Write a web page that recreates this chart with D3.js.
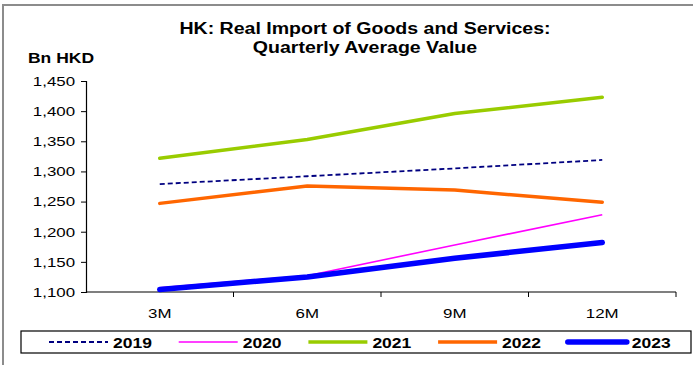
<!DOCTYPE html>
<html><head><meta charset="utf-8">
<script src="https://cdn.jsdelivr.net/npm/d3@7"></script>
<style>
body{margin:0;background:#fff;}
svg{display:block;font-family:"Liberation Sans",Arial,sans-serif;}
</style></head>
<body>
<svg id="c" width="693" height="365"></svg>
<script>
const categories = ["3M","6M","9M","12M"];
const years = ["2019","2020","2021","2022","2023"];
const v2019 = [1279,1292,1305,1319];
const v2020 = [1107,1127,1178,1228];
const v2021 = [1322,1353,1396,1423];
const v2022 = [1247,1276,1269,1249];
const v2023 = [1104,1125,1156,1182];
const yTicks = [1100,1150,1200,1250,1300,1350,1400,1450];
const titleLines = ["HK: Real Import of Goods and Services:","Quarterly Average Value"];
const yLabel = "Bn HKD";

const seriesVals = [v2019,v2020,v2021,v2022,v2023];
const styles = [
  {color:"#000080",width:1.8,dash:"5,3",cap:"butt"},
  {color:"#ff00ff",width:1.6,dash:null,cap:"butt"},
  {color:"#99cc00",width:3.5,dash:null,cap:"round"},
  {color:"#ff6600",width:3.5,dash:null,cap:"round"},
  {color:"#0000ff",width:5.5,dash:null,cap:"round"}
];

const SX = 1.25;
// place text at (x,y) with horizontal stretch
function stretch(sel, k){
  sel.each(function(){
    const t = d3.select(this);
    const xv = +(t.attr("x")||0);
    t.attr("x", xv/k).attr("transform", `scale(${k},1)`);
  });
}

const svg = d3.select("#c");
svg.append("rect").attr("x",3).attr("y",5).attr("width",700).attr("height",380)
  .attr("fill","none").attr("stroke","#8c8c8c").attr("stroke-width",2);

const x = d3.scaleBand().domain(categories).range([86,676]);
const y = d3.scaleLinear().domain([1100,1450]).range([292,81]);

// title
svg.append("g").selectAll("text").data(titleLines).join("text")
  .attr("x",365).attr("y",(d,i)=>34+i*19).attr("text-anchor","middle")
  .attr("font-weight","bold").attr("font-size",17).text(d=>d)
  .call(stretch,1.15);

svg.append("text").attr("x",28).attr("y",63).attr("font-weight","bold")
  .attr("font-size",14).text(yLabel).call(stretch,SX);

// y axis
const ya = svg.append("g").attr("transform","translate(86,0)")
  .call(d3.axisLeft(y).tickValues(yTicks).tickSize(5).tickPadding(6).tickFormat(d3.format(",")));
ya.select(".domain").attr("stroke","#000").attr("stroke-width",1.2);
ya.selectAll(".tick line").attr("stroke","#000");
ya.selectAll(".tick text").attr("font-size",13.5).attr("fill","#000")
  .attr("font-family","Liberation Sans, Arial, sans-serif").call(stretch,SX);

// x axis
const xa = svg.append("g").attr("transform","translate(0,292)");
xa.append("line").attr("x1",86).attr("x2",676).attr("y1",0).attr("y2",0).attr("stroke","#000").attr("stroke-width",1.2);
const bounds = categories.map(c=>x(c)).concat([x.range()[1]]);
xa.selectAll("line.tk").data(bounds.slice(1)).join("line").attr("class","tk")
  .attr("x1",d=>d).attr("x2",d=>d).attr("y1",0).attr("y2",5).attr("stroke","#000");
xa.selectAll("text").data(categories).join("text")
  .attr("x",d=>x(d)+x.bandwidth()/2).attr("y",26).attr("text-anchor","middle")
  .attr("font-size",13.5).text(d=>d).call(stretch,SX);

// lines
const line = d3.line().x((d,i)=>x(categories[i])+x.bandwidth()/2).y(d=>y(d));
seriesVals.forEach((vals,k)=>{
  const s = styles[k];
  svg.append("path").datum(vals).attr("d",line).attr("fill","none")
    .attr("stroke",s.color).attr("stroke-width",s.width)
    .attr("stroke-dasharray",s.dash).attr("stroke-linecap",s.cap).attr("stroke-linejoin","round");
});

// legend
svg.append("rect").attr("x",21).attr("y",331).attr("width",670).attr("height",22)
  .attr("fill","#fff").attr("stroke","#000").attr("stroke-width",1.2);
const lg = svg.append("g").selectAll("g").data(years).join("g")
  .attr("transform",(d,i)=>`translate(${49+i*129.7},342)`);
lg.append("line").attr("x1",0).attr("x2",59).attr("y1",0).attr("y2",0)
  .attr("stroke",(d,i)=>styles[i].color).attr("stroke-width",(d,i)=>styles[i].width)
  .attr("stroke-dasharray",(d,i)=>styles[i].dash).attr("stroke-linecap",(d,i)=>i===4?"round":"butt");
lg.append("text").attr("x",64).attr("y",5.5).attr("font-weight","bold").attr("font-size",14).text(d=>d)
  .call(stretch,SX);
</script>
</body></html>
